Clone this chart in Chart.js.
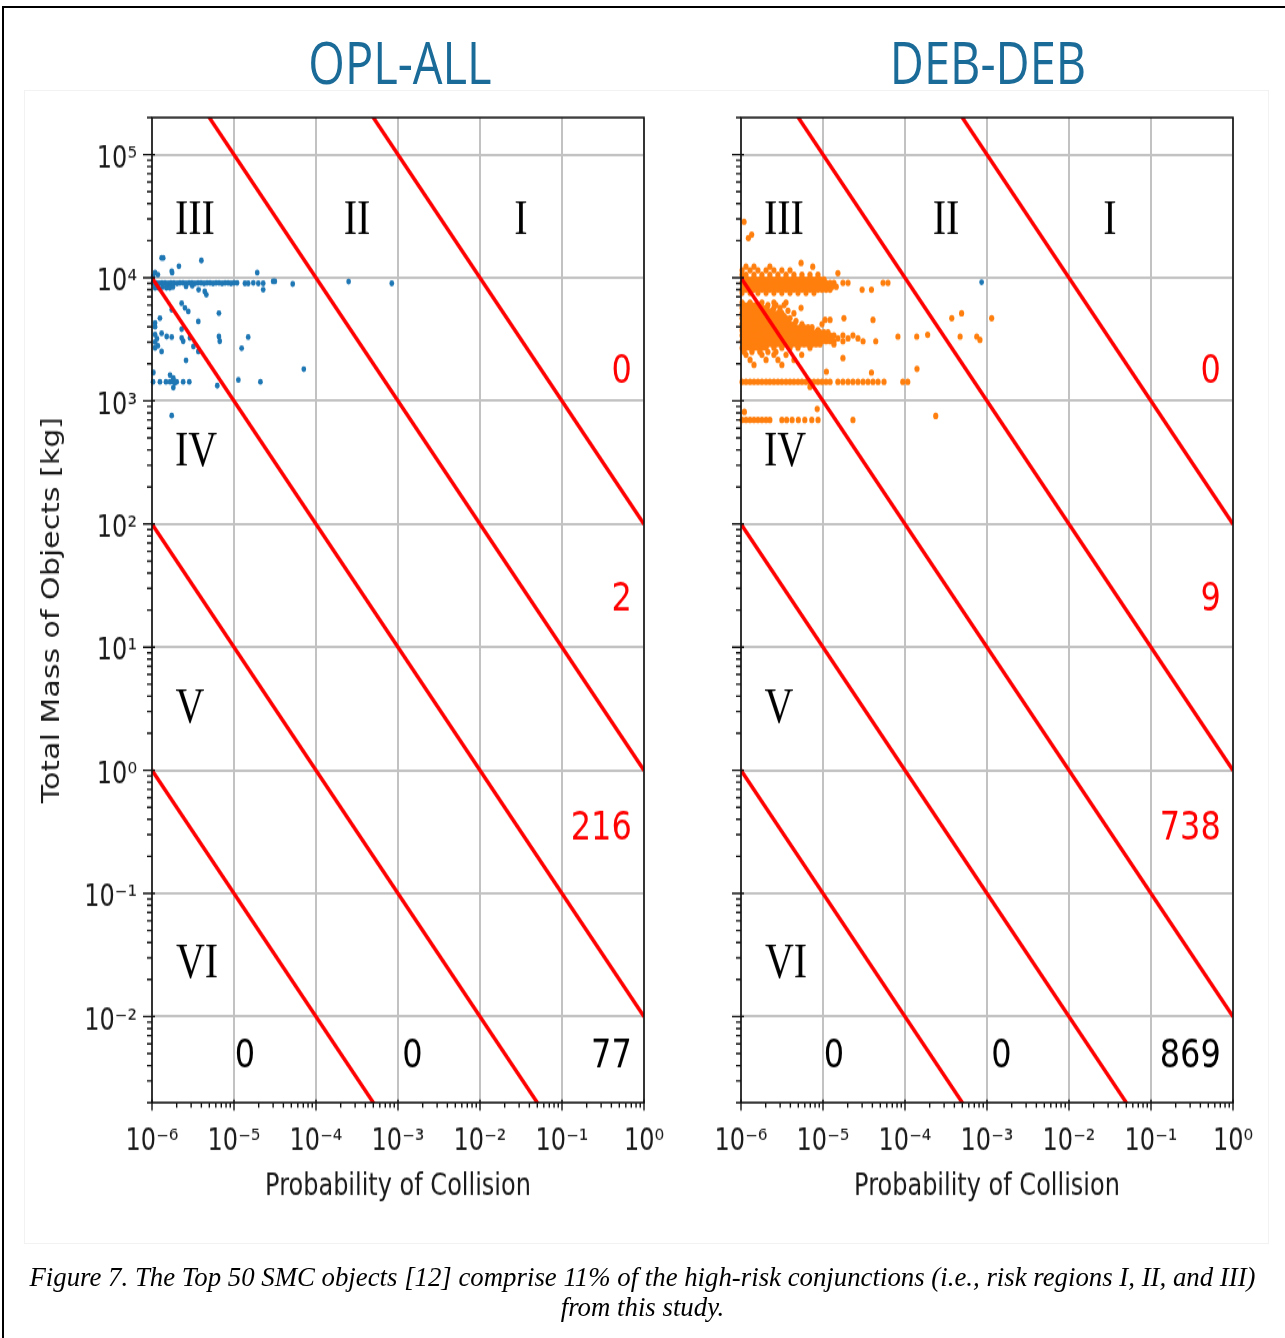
<!DOCTYPE html>
<html>
<head>
<meta charset="utf-8">
<script src="https://cdn.jsdelivr.net/npm/chart.js@4.4.0/dist/chart.umd.min.js"></script>
<style>
  html, body { margin: 0; padding: 0; background: #fff; }
  body { width: 1285px; height: 1338px; position: relative; overflow: hidden; }
  #frame { position: absolute; left: 2px; top: 6px; width: 1300px; height: 1350px; border: 2px solid #000; }
  #panel-box { position: absolute; left: 24px; top: 90px; width: 1243px; height: 1152px; border: 1px solid #f2f2f2; }
  /* the figure is drawn flat and stretched vertically */
  #fig { position: absolute; left: 0; top: 0; width: 1285px; height: 1070.4px; transform: scaleY(1.25); transform-origin: 0 0; }
  .title { position: absolute; top: 50.4px; transform: translate(-50%, -50%); font-family: 'Open Sans'; font-size: 47px; color: #1b6b99; white-space: nowrap; line-height: 1; }
  .plot { position: absolute; top: 74.4px; width: 680px; height: 907.2px; }
  #caption { position: absolute; left: 0; top: 1262px; width: 1285px; text-align: center; font-family: 'Liberation Serif'; font-style: italic; font-size: 26.8px; line-height: 30px; color: #000; }
</style>
</head>
<body>
<div id="frame"></div>
<div id="panel-box"></div>
<div id="fig">
  <div class="title" style="left:400px">OPL-ALL</div>
  <div class="title" style="left:988px">DEB-DEB</div>
  <div class="plot" style="left:0px"><canvas id="opl"></canvas></div>
  <div class="plot" style="left:600px"><canvas id="deb"></canvas></div>
</div>
<div id="caption">Figure 7. The Top 50 SMC objects [12] comprise 11% of the high-risk conjunctions (i.e., risk regions I, II, and III)<br>from this study.</div>

<script>
// risk boundaries: Pc * mass = const
const riskLines = [1e2, 1, 1e-2, 1e-4, 1e-6];

const regionNames = ['I', 'II', 'III', 'IV', 'V', 'VI'];
const oplSideCounts = [0, 2, 216];
const oplFloorCounts = [0, 0, 77];
const debSideCounts = [0, 9, 738];
const debFloorCounts = [0, 0, 869];

// OPL-ALL conjunctions [Pc, mass kg]
const oplPoints = [
  [1.31e-6, 14500], [1.37e-6, 14500], [4.0e-6, 13800], [2.13e-6, 12400], [1.74e-6, 11300],
  [1.76e-6, 11000], [1.92e-5, 11000], [1.09e-6, 11000], [1.18e-6, 10600], [1.03e-6, 10200],
  [1.03e-6, 9100], [1.12e-6, 9100], [1.22e-6, 9000], [1.32e-6, 9100], [1.44e-6, 9100],
  [1.57e-6, 9000], [1.70e-6, 9100], [1.85e-6, 9100], [2.02e-6, 9000], [2.19e-6, 9100],
  [2.39e-6, 9100], [2.60e-6, 9000], [2.83e-6, 9100], [3.07e-6, 9100], [3.34e-6, 9000],
  [3.64e-6, 9100], [3.96e-6, 9100], [4.31e-6, 9000], [4.69e-6, 9100], [5.10e-6, 9100],
  [5.55e-6, 9000], [6.04e-6, 9100], [6.57e-6, 9100], [7.15e-6, 9000], [7.78e-6, 9100],
  [8.47e-6, 9100], [9.2e-6, 9000], [1.0e-5, 9100], [1.09e-5, 9100],
  [1.36e-5, 9000], [1.49e-5, 9000], [1.72e-5, 9100], [1.98e-5, 9000], [2.27e-5, 9000],
  [3.0e-5, 9350], [3.15e-5, 9350], [5.2e-5, 8900], [2.5e-4, 9300], [8.4e-4, 9000],
  [1.09e-6, 8300], [1.2e-6, 8300], [1.35e-6, 8400], [1.5e-6, 8300], [1.65e-6, 8300],
  [1.8e-6, 8400], [2.6e-6, 8500], [3.1e-6, 8600], [3.7e-6, 8000], [4.4e-6, 7740],
  [4.6e-6, 7280], [2.27e-5, 8000],
  [2.3e-6, 6200], [2.52e-6, 5700], [2.77e-6, 5330], [1.74e-6, 5500], [6.55e-6, 5160],
  [1.25e-6, 4700], [3.67e-6, 4420], [1.09e-6, 4300], [1.09e-6, 4000], [2.3e-6, 3830],
  [1.31e-6, 3540], [1.51e-6, 3330], [1.74e-6, 3300], [1.09e-6, 3450], [1.15e-6, 3200],
  [1.09e-6, 3000], [1.18e-6, 2800], [1.09e-6, 2700], [2.3e-6, 3250], [2.4e-6, 3050],
  [2.9e-6, 3250], [3.2e-6, 2770], [6.55e-6, 3330], [6.7e-6, 3050], [1.49e-5, 3300],
  [1.24e-5, 2680], [1.31e-6, 2520], [3.67e-6, 2520], [2.6e-6, 2130], [7.1e-5, 1810],
  [1.04e-6, 1700],
  [1.03e-6, 1430], [1.25e-6, 1430], [1.48e-6, 1430], [1.66e-6, 1430], [1.82e-6, 1430],
  [2.0e-6, 1430], [2.4e-6, 1430], [2.85e-6, 1430],
  [1.66e-6, 1620], [1.82e-6, 1530], [1.9e-6, 1400], [1.82e-6, 1280], [6.25e-6, 1330],
  [1.13e-5, 1480], [2.1e-5, 1430], [1.74e-6, 760]
];

// DEB-DEB conjunctions, grouped by mass [mass kg, [Pc...]]
const debRows = [
  [28500, [1.09e-6]],
  [22400, [1.35e-6]],
  [21000, [1.23e-6]],
  [13200, [5.4e-6]],
  [12300, [1.15e-6, 1.44e-6, 2.25e-6, 7.5e-6]],
  [11500, [1.03e-6, 1.29e-6, 1.61e-6, 2.02e-6, 2.52e-6, 3.15e-6, 3.96e-6]],
  [10900, [1.52e-5]],
  [10600, [1.03e-6, 1.15e-6, 1.44e-6, 1.80e-6, 2.25e-6, 2.82e-6, 3.54e-6, 4.42e-6, 5.54e-6, 6.94e-6, 8.68e-6]],
  [9700, [1.09e-6, 1.22e-6, 1.36e-6, 1.52e-6, 1.70e-6, 1.91e-6, 2.13e-6, 2.39e-6, 2.67e-6, 2.99e-6, 3.35e-6,
          3.74e-6, 4.19e-6, 4.69e-6, 5.25e-6, 5.87e-6, 6.57e-6, 7.35e-6, 8.22e-6, 9.2e-6, 1.03e-5]],
  [9100, [1.03e-6, 1.15e-6, 1.29e-6, 1.44e-6, 1.61e-6, 1.80e-6, 2.02e-6, 2.25e-6, 2.52e-6, 2.82e-6, 3.15e-6,
          3.54e-6, 3.96e-6, 4.42e-6, 4.96e-6, 5.54e-6, 6.20e-6, 6.94e-6, 7.76e-6, 8.68e-6, 9.72e-6, 1.09e-5,
          1.22e-5, 1.36e-5, 1.75e-5, 2.02e-5, 5.4e-5, 6.2e-5]],
  [8450, [1.09e-6, 1.22e-6, 1.36e-6, 1.52e-6, 1.70e-6, 1.91e-6, 2.13e-6, 2.39e-6, 2.67e-6, 2.99e-6, 3.35e-6,
          3.74e-6, 4.19e-6, 4.69e-6, 5.25e-6, 5.87e-6, 6.57e-6, 7.35e-6, 8.22e-6, 9.2e-6, 1.03e-5, 1.15e-5,
          1.29e-5, 1.45e-5]],
  [8000, [1.03e-6, 1.15e-6, 1.29e-6, 1.44e-6, 1.61e-6, 1.80e-6, 2.02e-6, 2.25e-6, 2.52e-6, 2.82e-6, 3.15e-6,
          3.54e-6, 3.96e-6, 4.42e-6, 4.96e-6, 5.54e-6, 6.20e-6, 6.94e-6, 7.76e-6, 8.68e-6, 9.72e-6, 1.09e-5,
          1.22e-5, 3.0e-5, 3.9e-5]],
  [7550, [1.03e-6, 1.29e-6, 1.61e-6, 2.02e-6, 2.52e-6, 3.15e-6, 3.96e-6, 4.96e-6, 6.2e-6, 7.76e-6]],
  [6300, [1.03e-6, 1.29e-6, 1.8e-6, 2.52e-6, 3.54e-6]],
  [6000, [1.09e-6, 1.22e-6, 1.36e-6, 1.52e-6, 1.70e-6, 2.13e-6, 2.67e-6, 3.35e-6]],
  [5700, [1.03e-6, 1.15e-6, 1.29e-6, 1.44e-6, 1.61e-6, 1.80e-6, 2.02e-6, 2.52e-6, 2.99e-6, 5.4e-6]],
  [5400, [1.09e-6, 1.22e-6, 1.36e-6, 1.52e-6, 1.70e-6, 1.91e-6, 2.13e-6, 2.39e-6, 2.99e-6, 3.74e-6]],
  [5150, [1.03e-6, 1.15e-6, 1.29e-6, 1.44e-6, 1.61e-6, 1.80e-6, 2.02e-6, 2.25e-6, 2.52e-6, 2.82e-6, 3.15e-6,
          4.42e-6, 4.9e-4]],
  [4900, [1.09e-6, 1.22e-6, 1.36e-6, 1.52e-6, 1.70e-6, 1.91e-6, 2.13e-6, 2.39e-6, 2.67e-6, 2.99e-6, 3.35e-6]],
  [4700, [1.03e-6, 1.15e-6, 1.29e-6, 1.44e-6, 1.61e-6, 1.80e-6, 2.02e-6, 2.25e-6, 2.52e-6, 2.82e-6, 3.15e-6,
          3.54e-6, 3.96e-6, 1.8e-5, 3.72e-4, 1.14e-3]],
  [4550, [1.06e-5, 1.22e-5, 4.07e-5]],
  [4450, [1.09e-6, 1.22e-6, 1.36e-6, 1.52e-6, 1.70e-6, 1.91e-6, 2.13e-6, 2.39e-6, 2.67e-6, 2.99e-6, 3.35e-6,
          3.74e-6, 4.69e-6]],
  [4200, [1.03e-6, 1.15e-6, 1.29e-6, 1.44e-6, 1.61e-6, 1.80e-6, 2.02e-6, 2.25e-6, 2.52e-6, 2.82e-6, 3.15e-6,
          3.54e-6, 3.96e-6, 4.42e-6, 5.54e-6, 9.72e-6]],
  [3950, [1.09e-6, 1.22e-6, 1.36e-6, 1.52e-6, 1.70e-6, 1.91e-6, 2.13e-6, 2.39e-6, 2.67e-6, 2.99e-6, 3.35e-6,
          3.74e-6, 4.19e-6, 4.69e-6, 5.25e-6, 5.87e-6, 6.57e-6, 7.35e-6]],
  [3750, [1.03e-6, 1.15e-6, 1.29e-6, 1.44e-6, 1.61e-6, 1.80e-6, 2.02e-6, 2.25e-6, 2.52e-6, 2.82e-6, 3.15e-6,
          3.54e-6, 3.96e-6, 4.42e-6, 4.96e-6, 5.54e-6, 6.20e-6, 6.94e-6, 8.68e-6]],
  [3600, [1.09e-6, 1.22e-6, 1.36e-6, 1.52e-6, 1.70e-6, 1.91e-6, 2.13e-6, 2.39e-6, 2.67e-6, 2.99e-6, 3.35e-6,
          3.74e-6, 4.19e-6, 4.69e-6, 5.25e-6, 5.87e-6, 6.57e-6, 7.35e-6, 8.22e-6, 9.2e-6, 1.03e-5, 1.15e-5]],
  [3440, [1.89e-4]],
  [3400, [1.03e-6, 1.15e-6, 1.29e-6, 1.44e-6, 1.61e-6, 1.80e-6, 2.02e-6, 2.25e-6, 2.52e-6, 2.82e-6, 3.15e-6,
          3.54e-6, 3.96e-6, 4.42e-6, 4.96e-6, 5.54e-6, 6.20e-6, 6.94e-6, 7.76e-6, 8.68e-6, 9.72e-6, 1.09e-5,
          1.22e-5, 1.36e-5, 1.75e-5, 2.32e-5]],
  [3330, [8.2e-5, 1.39e-4, 4.7e-4, 7.5e-4]],
  [3220, [1.09e-6, 1.22e-6, 1.36e-6, 1.52e-6, 1.70e-6, 1.91e-6, 2.13e-6, 2.39e-6, 2.67e-6, 2.99e-6, 3.35e-6,
          3.74e-6, 4.19e-6, 4.69e-6, 5.25e-6, 5.87e-6, 6.57e-6, 7.35e-6, 8.22e-6, 9.2e-6, 1.03e-5, 1.15e-5,
          1.29e-5, 1.52e-5, 2.02e-5, 2.67e-5]],
  [3130, [8.2e-4]],
  [3050, [1.03e-6, 1.15e-6, 1.29e-6, 1.44e-6, 1.61e-6, 1.80e-6, 2.02e-6, 2.25e-6, 2.52e-6, 2.82e-6, 3.15e-6,
          3.54e-6, 3.96e-6, 4.42e-6, 4.96e-6, 5.54e-6, 6.20e-6, 6.94e-6, 7.76e-6, 8.68e-6, 9.72e-6, 1.09e-5,
          1.22e-5, 1.36e-5, 1.75e-5, 3.08e-5, 4.4e-5]],
  [2880, [1.09e-6, 1.22e-6, 1.36e-6, 1.52e-6, 1.70e-6, 1.91e-6, 2.13e-6, 2.39e-6, 2.67e-6, 2.99e-6, 3.35e-6,
          3.74e-6, 4.19e-6, 4.69e-6, 5.25e-6, 5.87e-6, 6.57e-6, 7.35e-6, 8.22e-6, 9.2e-6, 1.36e-5]],
  [2700, [1.03e-6, 1.15e-6, 1.29e-6, 1.44e-6, 1.61e-6, 1.80e-6, 2.02e-6, 2.52e-6, 3.15e-6, 3.96e-6, 4.96e-6,
          6.94e-6]],
  [2500, [1.09e-6, 1.36e-6, 1.70e-6, 2.13e-6, 2.67e-6]],
  [2370, [1.15e-6, 1.8e-6, 2.52e-6, 3.54e-6, 5.5e-6]],
  [2230, [1.75e-5]],
  [2150, [1.29e-6, 2.02e-6, 2.82e-6, 4.42e-6]],
  [1960, [1.44e-6, 3.15e-6]],
  [1820, [1.4e-4]],
  [1730, [1.1e-5]],
  [1700, [3.9e-5]],
  [1430, [1.03e-6, 1.15e-6, 1.29e-6, 1.44e-6, 1.61e-6, 1.80e-6, 2.02e-6, 2.25e-6, 2.52e-6, 2.82e-6, 3.15e-6,
          3.54e-6, 3.96e-6, 4.42e-6, 4.96e-6, 5.54e-6, 6.20e-6, 6.94e-6, 7.76e-6, 8.68e-6, 9.72e-6, 1.09e-5,
          1.22e-5, 1.52e-5, 1.75e-5, 2.02e-5, 2.32e-5, 2.67e-5, 3.08e-5, 3.54e-5, 4.07e-5, 4.69e-5, 5.55e-5,
          9.4e-5, 1.08e-4]],
  [1300, [6.94e-6]],
  [860, [8.5e-6]],
  [815, [1.1e-6]],
  [755, [2.37e-4]],
  [700, [1.03e-6, 1.15e-6, 1.29e-6, 1.44e-6, 1.61e-6, 1.80e-6, 2.02e-6, 2.25e-6, 3.15e-6, 3.6e-6, 4.2e-6,
         5.0e-6, 6.0e-6, 7.3e-6, 8.7e-6, 2.32e-5]]
];
const debBluePoints = [[8.6e-4, 9200]];

const SUP = { '-': '\u207B', '0': '\u2070', '1': '\u00B9', '2': '\u00B2', '3': '\u00B3', '4': '\u2074',
              '5': '\u2075', '6': '\u2076', '7': '\u2077', '8': '\u2078', '9': '\u2079' };
function powLabel(v) {
  const e = String(Math.round(Math.log10(v)));
  return '10' + e.split('').map(c => SUP[c]).join('');
}

// log ticks 1..9 x 10^e inside [min, max]
function logTicks(scale) {
  const lo = Math.floor(Math.log10(scale.min)), hi = Math.ceil(Math.log10(scale.max));
  const out = [];
  for (let e = lo; e <= hi; e++) {
    for (let s = 1; s < 10; s++) {
      const v = s * Math.pow(10, e);
      if (v >= scale.min * 0.999 && v <= scale.max * 1.001) out.push({ value: v, major: s === 1 });
    }
  }
  scale.ticks = out;
}

const decorPlugin = {
  id: 'decor',
  afterDatasetsDraw(chart, args, opts) {
    const { ctx, chartArea: a, scales: { x, y } } = chart;
    ctx.save();
    ctx.strokeStyle = '#111';
    ctx.lineWidth = 1.6;
    ctx.strokeRect(a.left, a.top, a.right - a.left, a.bottom - a.top);
    ctx.lineWidth = 1.4;
    ctx.beginPath();
    x.ticks.forEach(t => {
      const px = x.getPixelForValue(t.value);
      ctx.moveTo(px, a.bottom - (t.major ? 2.4 : 0));
      ctx.lineTo(px, a.bottom + (t.major ? 6.4 : 4));
    });
    y.ticks.forEach(t => {
      const py = y.getPixelForValue(t.value);
      ctx.moveTo(a.left + (t.major ? 3 : 0), py);
      ctx.lineTo(a.left - (t.major ? 9 : 5), py);
    });
    ctx.stroke();

    ctx.textBaseline = 'middle';
    // region numerals
    ctx.fillStyle = '#000';
    ctx.font = '40px "Liberation Serif"';
    ctx.textAlign = 'center';
    regionNames.forEach((name, i) => {
      const [px, m] = opts.numeralAt[i];
      ctx.fillText(name, x.getPixelForValue(px), y.getPixelForValue(m));
    });
    // conjunction counts
    ctx.font = '32px "DejaVu Sans"';
    ctx.fillStyle = '#ff0000';
    ctx.textAlign = 'right';
    opts.side.forEach((n, i) => {
      ctx.fillText(String(n), x.getPixelForValue(opts.sideAt[0]), y.getPixelForValue(opts.sideAt[1][i]));
    });
    ctx.fillStyle = '#000';
    opts.floor.forEach((n, i) => {
      const [px, align] = opts.floorAt[0][i];
      ctx.textAlign = align;
      ctx.fillText(String(n), x.getPixelForValue(px), y.getPixelForValue(opts.floorAt[1]));
    });
    ctx.restore();
  }
};

const gridColor = ctx => (ctx.tick && ctx.tick.major) ? '#c2c2c2' : 'rgba(0,0,0,0)';
const toXY = p => ({ x: p[0], y: p[1] });

function makePanel(id, scatterSets, sideCounts, floorCounts, showY) {
  const lines = riskLines.map(c => ({
    type: 'scatter',
    data: [{ x: 1e-6, y: c / 1e-6 }, { x: 1, y: c }],
    showLine: true,
    borderColor: '#ff0000',
    borderWidth: 3.4,
    pointRadius: 0
  }));
  const dots = scatterSets.map(s => ({
    data: s.points.map(toXY),
    backgroundColor: s.color,
    borderWidth: 0,
    pointRadius: s.radius,
    clip: 6
  }));

  return new Chart(document.getElementById(id), {
    type: 'scatter',
    data: { datasets: lines.concat(dots) },
    options: {
      responsive: true,
      maintainAspectRatio: false,
      animation: false,
      events: [],
      layout: { padding: { left: 0, right: showY ? 36 : 47, top: 20, bottom: 0 } },
      plugins: {
        legend: { display: false },
        tooltip: { enabled: false },
        decor: {
          numeralAt: [[3.16e-2, 2.9e4], [3.16e-4, 2.9e4], [3.34e-6, 2.9e4], [3.44e-6, 378], [2.9e-6, 3.13], [3.54e-6, 0.0265]],
          side: sideCounts,
          sideAt: [0.71, [1700, 23.9, 0.335]],
          floor: floorCounts,
          floorAt: [[[1.36e-5, 'center'], [1.5e-3, 'center'], [0.71, 'right']], 0.0047]
        }
      },
      scales: {
        x: {
          type: 'logarithmic',
          min: 1e-6,
          max: 1,
          afterBuildTicks: logTicks,
          afterFit: s => { s.height = 100; s.paddingLeft = 0; s.paddingRight = 0; },
          border: { display: false },
          grid: { color: gridColor, lineWidth: 2, drawTicks: false },
          ticks: {
            autoSkip: false, maxRotation: 0, minRotation: 0, padding: 17,
            color: '#1a1a1a', font: { family: 'DejaVu Sans', size: 24 },
            callback: (v, i, ticks) => ticks[i].major ? powLabel(v) : ''
          },
          title: {
            display: true, text: 'Probability of Collision', color: '#1a1a1a',
            font: { family: 'DejaVu Sans', size: 24 }, padding: { top: 0, bottom: 17.6 }
          }
        },
        y: {
          type: 'logarithmic',
          min: 2e-3,
          max: 2e5,
          afterBuildTicks: logTicks,
          afterFit: s => { s.width = showY ? 152 : 141; s.paddingTop = 0; s.paddingBottom = 0; },
          border: { display: false },
          grid: { color: gridColor, lineWidth: 2, drawTicks: false },
          ticks: {
            display: showY, autoSkip: false, padding: 15, labelOffset: 4,
            color: '#1a1a1a', font: { family: 'DejaVu Sans', size: 24 },
            callback: (v, i, ticks) => ticks[i].major ? powLabel(v) : ''
          },
          title: {
            display: showY, text: 'Total Mass of Objects [kg]', color: '#1a1a1a',
            font: { family: 'DejaVu Sans', size: 24 }, padding: { top: 38.6, bottom: 0 }
          }
        }
      }
    },
    plugins: [decorPlugin]
  });
}

const debPoints = [];
debRows.forEach(([mass, probs]) => probs.forEach(p => debPoints.push([p, mass])));

makePanel('opl', [{ points: oplPoints, color: '#1f77b4', radius: 2.4 }], oplSideCounts, oplFloorCounts, true);
makePanel('deb', [{ points: debBluePoints, color: '#1f77b4', radius: 2.4 },
                  { points: debPoints, color: '#ff7f0e', radius: 2.6 }],
  debSideCounts, debFloorCounts, false);
</script>
</body>
</html>
